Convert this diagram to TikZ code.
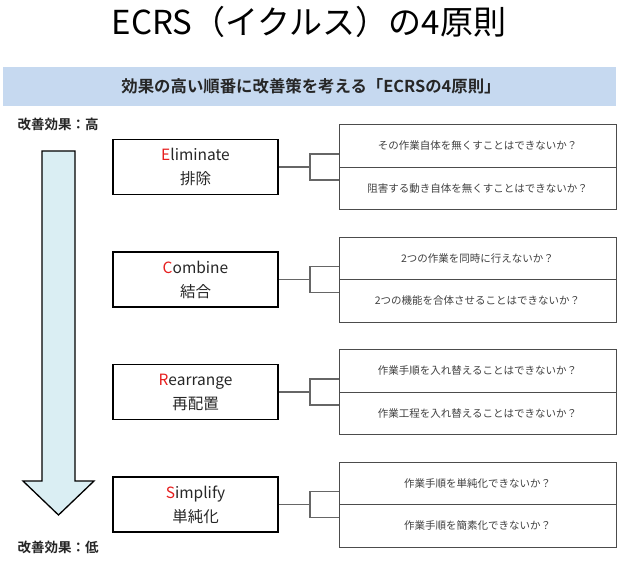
\documentclass[tikz,border=0pt]{standalone}
\usepackage{fontspec}
\setmainfont{Noto Sans CJK JP}[BoldFont={Noto Sans CJK JP Bold}]
\usepackage {tikz}
\definecolor {bannerblue}{RGB}{198,217,240}
\definecolor {arrowblue}{RGB}{218,238,243}
\definecolor {ecrsred}{RGB}{230,30,30}
\definecolor {qgray}{RGB}{64,64,64}

\begin{document}
\begin{tikzpicture}[x=1pt,y=-1pt]
  \tikzstyle{principle}=[rectangle, draw=black, line width=1.6pt, minimum width=165pt,
minimum height=55pt, align=center, font=\fontsize{15.5}{24}\selectfont, text=black!85]
  \tikzstyle{question}=[rectangle, draw=black!70, line width=0.9pt, minimum width=277pt,
minimum height=42.5pt, font=\fontsize{10.5}{12}\selectfont, text=qgray]
  \tikzstyle{link}=[draw=black!60, line width=1.1pt]
  \tikzstyle{effect}=[font=\bfseries\fontsize{13.5}{15}\selectfont, text=black!85]
  \useasboundingbox (0,0) rectangle (623,563);

  \node (T) at (309,22) {\fontsize{33}{38}\selectfont ECRS（イクルス）の4原則};
  \fill[bannerblue] (3,67) rectangle (616,106);
  \node[font=\bfseries\fontsize{16.4}{18}\selectfont, text=black!85] (B) at (311,86)
    {効果の高い順番に改善策を考える「ECRSの4原則」};

  \node[effect] (E_high) at (58,124) {改善効果：高};
  \node[effect] (E_low) at (58,547) {改善効果：低};
  \draw[line width=1.3pt, fill=arrowblue] (42,151) -- (75,151) -- (75,481) -- (94,481)
    -- (58.5,515) -- (23,481) -- (42,481) -- cycle;

  \node[principle] (P_1) at (195.5,167)   {\textcolor{ecrsred}{E}liminate\\排除};
  \node[principle] (P_2) at (195.5,279.5) {\textcolor{ecrsred}{C}ombine\\結合};
  \node[principle] (P_3) at (195.5,392)   {\textcolor{ecrsred}{R}earrange\\再配置};
  \node[principle] (P_4) at (195.5,504.5) {\textcolor{ecrsred}{S}implify\\単純化};

  \node[question] (Q_1a) at (477.5,145.75) {その作業自体を無くすことはできないか？};
  \node[question] (Q_1b) at (477.5,188.25) {阻害する動き自体を無くすことはできないか？};
  \node[question] (Q_2a) at (477.5,258.25) {2つの作業を同時に行えないか？};
  \node[question] (Q_2b) at (477.5,300.75) {2つの機能を合体させることはできないか？};
  \node[question] (Q_3a) at (477.5,370.75) {作業手順を入れ替えることはできないか？};
  \node[question] (Q_3b) at (477.5,413.25) {作業工程を入れ替えることはできないか？};
  \node[question] (Q_4a) at (477.5,483.25) {作業手順を単純化できないか？};
  \node[question] (Q_4b) at (477.5,525.75) {作業手順を簡素化できないか？};

  \coordinate (K_1) at (310,167);
  \coordinate (K_2) at (310,279.5);
  \coordinate (K_3) at (310,392);
  \coordinate (K_4) at (310,504.5);
  \coordinate (K_1a) at (310,154);   \coordinate (K_1b) at (310,180);
  \coordinate (K_2a) at (310,266.5); \coordinate (K_2b) at (310,292.5);
  \coordinate (K_3a) at (310,379);   \coordinate (K_3b) at (310,405);
  \coordinate (K_4a) at (310,491.5); \coordinate (K_4b) at (310,517.5);
  \draw[link] (P_1.east) -- (K_1);
  \draw[link] (P_2.east) -- (K_2);
  \draw[link] (P_3.east) -- (K_3);
  \draw[link] (P_4.east) -- (K_4);
  \draw[link] (Q_1a.west |- K_1a) -- (K_1a) -- (K_1b) -- (Q_1b.west |- K_1b);
  \draw[link] (Q_2a.west |- K_2a) -- (K_2a) -- (K_2b) -- (Q_2b.west |- K_2b);
  \draw[link] (Q_3a.west |- K_3a) -- (K_3a) -- (K_3b) -- (Q_3b.west |- K_3b);
  \draw[link] (Q_4a.west |- K_4a) -- (K_4a) -- (K_4b) -- (Q_4b.west |- K_4b);
\end{tikzpicture}
\end{document}
